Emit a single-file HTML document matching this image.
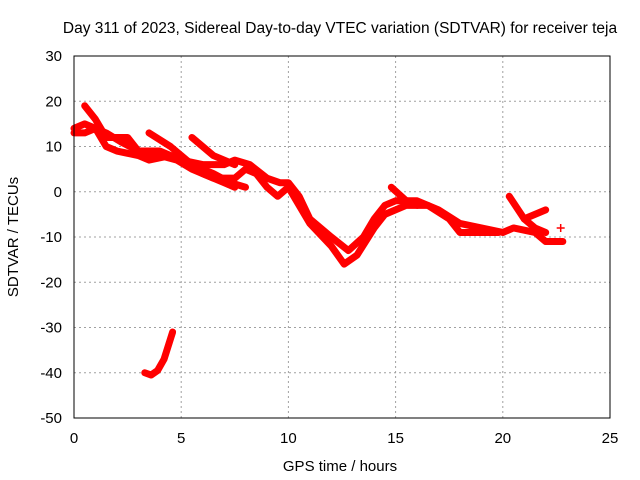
<!DOCTYPE html>
<html><head><meta charset="utf-8"><style>
body{margin:0;background:#fff}
svg{display:block;font-family:"Liberation Sans",sans-serif}
</style></head><body>
<svg id="chart" width="640" height="480" viewBox="0 0 640 480">
<rect width="640" height="480" fill="#fff"/>
<text x="340" y="33" font-size="15.5" text-anchor="middle">Day 311 of 2023, Sidereal Day-to-day VTEC variation (SDTVAR) for receiver teja</text>
<g id="grid"></g>
<g id="series"></g>
<rect x="74" y="56" width="536" height="362" fill="none" stroke="#000"/>
<g id="ticks"></g>
<text x="340" y="471" font-size="15" text-anchor="middle">GPS time / hours</text>
<text x="18" y="237" font-size="15" text-anchor="middle" transform="rotate(-90 18 237)">SDTVAR / TECUs</text>
</svg>
<script>
const xTicks=[0,5,10,15,20,25];
const yTicks=[30,20,10,0,-10,-20,-30,-40,-50];
const trackA=[[0,14],[0.5,15],[1.5,13],[2.2,11],[3,9],[4,8],[4.8,7],[5.5,5],[6.5,3],[7.5,3],[8,5],[8.5,4],[9,1],[9.5,-1],[10,1],[10.5,-3],[11,-7],[12,-12],[12.6,-16],[13.2,-14],[14,-8],[14.5,-5],[15.5,-3],[16.5,-3],[17.5,-6],[18,-9],[19,-9],[19.8,-9]];
const trackB=[[0.5,19],[1,16],[1.5,12],[2.5,12],[3,9],[4,9],[5,7],[6,6],[7,6],[7.5,7],[8.2,6],[9,3],[9.6,2],[10,2],[10.5,-1],[11,-6],[12,-10],[12.8,-13],[13.5,-10],[14,-6],[14.5,-3],[15,-2],[16,-2],[17,-4],[18,-7],[19,-8],[20,-9],[20.5,-8],[21.5,-9],[22,-11],[22.8,-11]];
const trackC=[[0,13],[0.5,13],[1,14],[1.5,10],[2,9],[3,8],[3.5,7],[4.5,8],[5.2,6],[6,4],[7,2],[7.5,1]];
const trackD=[[3.5,13],[4.5,10],[5.5,6],[6.5,4],[7.3,2],[8,1]];
const trackE=[[5.5,12],[6.5,8],[7.5,6]];
const trackF=[[20.3,-1],[21,-6],[21.5,-8],[22,-9]];
const trackG=[[21,-6],[22,-4]];
const trackH=[[14.8,1],[15.5,-2],[16,-3]];
const trackL=[[3.3,-40],[3.6,-40.5],[3.9,-39.5],[4.2,-37],[4.6,-31]];
const markers=[[22.7,-8]];
const tracks=[trackA,trackB,trackC,trackD,trackE,trackF,trackG,trackH,trackL];
const NS='http://www.w3.org/2000/svg';
const sx=h=>74+h*536/25, sy=v=>56+(30-v)*362/80;
const grid=document.getElementById('grid'),ticks=document.getElementById('ticks'),ser=document.getElementById('series');
function mk(t,a,p){const e=document.createElementNS(NS,t);for(const k in a)e.setAttribute(k,a[k]);p.appendChild(e);return e;}
xTicks.forEach(t=>{
 if(t>0&&t<25){const g=mk('line',{x1:sx(t),x2:sx(t),y1:56,y2:418,stroke:'#a0a0a0','stroke-dasharray':'2,3'},grid);
 
 }
 const l=mk('text',{x:sx(t),y:443,'font-size':15,'text-anchor':'middle'},ticks);l.textContent=t;
 
 
});
yTicks.forEach(t=>{
 if(t<30&&t>-50){const g=mk('line',{x1:74,x2:610,y1:sy(t),y2:sy(t),stroke:'#a0a0a0','stroke-dasharray':'2,3'},grid);
 
 }
 const l=mk('text',{x:62,y:sy(t)+5,'font-size':15,'text-anchor':'end'},ticks);l.textContent=t;
 
 
});
tracks.forEach(tr=>{
 const p=mk('polyline',{points:tr.map(d=>sx(d[0])+','+sy(d[1])).join(' '),fill:'none',stroke:'#ff0000','stroke-width':7,'stroke-linejoin':'round','stroke-linecap':'round'},ser);
 
 
});
markers.forEach(d=>{
 const p=mk('path',{d:`M${sx(d[0])-4},${sy(d[1])}h8M${sx(d[0])},${sy(d[1])-4}v8`,stroke:'#ff0000','stroke-width':1.5},ser);
 
 
});
</script>
</body></html>
